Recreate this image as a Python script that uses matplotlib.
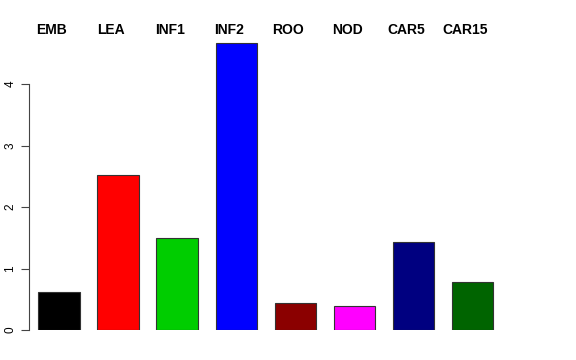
import matplotlib
matplotlib.use("Agg")
import matplotlib.pyplot as plt

labels = ["EMB", "LEA", "INF1", "INF2", "ROO", "NOD", "CAR5", "CAR15"]
values = [0.62, 2.52, 1.50, 4.67, 0.44, 0.39, 1.43, 0.78]
colors = ["#000000", "#FF0000", "#00CD00", "#0000FF", "#8B0000", "#FF00FF", "#000080", "#006400"]
yticks = [0, 1, 2, 3, 4]

plt.rcParams["font.family"] = ["Liberation Sans", "DejaVu Sans"]

fig = plt.figure(figsize=(5.76, 3.6), dpi=100)
ax = fig.add_axes([0, 30 / 360, 1, 307.5 / 360])

x = list(range(len(values)))
ax.bar(x, values, width=0.7, color=colors, edgecolor="#333333", linewidth=0.8)

# group names sit slightly left of the bar centres
for xi, lab in zip(x, labels):
    ax.text(xi - 0.12, 4.88, lab, ha="center", va="center", fontsize=10, fontweight="bold", clip_on=False)

ax.set_xlim(-0.998, 8.748)
ax.set_ylim(0, 5)
for s in ["top", "right", "bottom"]:
    ax.spines[s].set_visible(False)
ax.spines["left"].set_position(("data", -0.508))
ax.spines["left"].set_bounds(0, 4)
ax.spines["left"].set_color("#444444")
ax.set_xticks([])
ax.set_yticks(yticks)
ax.tick_params(axis="y", labelrotation=90, labelsize=8.5, length=6, color="#444444", pad=3)
for t in ax.get_yticklabels():
    t.set_va("center")

fig.savefig("out.png", dpi=100)
